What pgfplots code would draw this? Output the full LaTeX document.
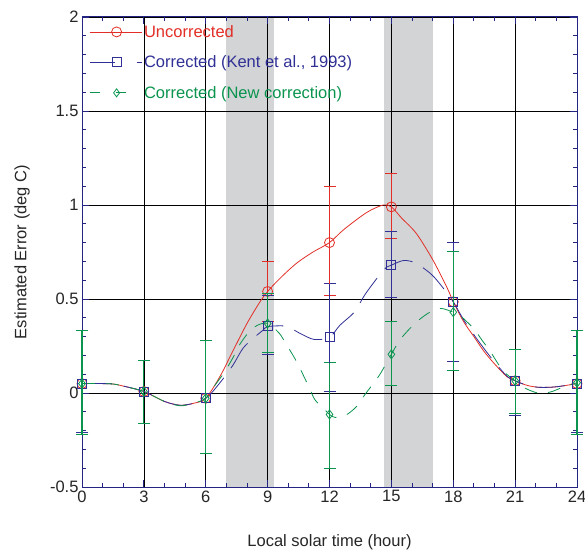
\documentclass[border=0pt]{standalone}
\usepackage{fontspec}
\setmainfont{Liberation Sans}
\usepackage{pgfplots}
\pgfplotsset{compat=1.18}

\definecolor{uncorr}{RGB}{226,46,38}
\definecolor{kent}{RGB}{48,48,150}
\definecolor{newc}{RGB}{10,148,78}
\definecolor{frame}{RGB}{36,36,130}
\definecolor{band}{RGB}{211,212,214}
\newcommand{\fs}{\fontsize{16.5}{19}\selectfont}

\begin{document}
\begin{tikzpicture}
\begin{axis}[
  set layers,
  scale only axis, width=495pt, height=470pt,
  xmin=0, xmax=24, ymin=-0.5, ymax=2,
  xtick={0,3,...,24}, ytick={-0.5,0,0.5,1,1.5,2},
  minor x tick num=2, minor y tick num=4,
  tick align=inside, major tick length=7pt, minor tick length=4pt,
  tick style={frame, line width=0.8pt},
  axis line style={frame, line width=1pt},
  grid=major, major grid style={black, line width=0.7pt},
  tick label style={font=\fs, text=black!85},
  /pgf/number format/assume math mode=true,
  xlabel={Local solar time (hour)},
  ylabel={Estimated Error (deg C)},
  label style={font=\fs, text=black!85},
  xlabel style={at={(axis description cs:0.5,-0.117)}, anchor=center},
  ylabel style={at={(axis description cs:-0.121,0.5)}, anchor=center},
  unbounded coords=jump,
  legend image code/.code={\draw[mark repeat=2,mark phase=2,#1] plot coordinates {(0pt,0pt) (27pt,0pt) (52pt,0pt)};},
  legend style={draw=none, fill=none, at={(axis description cs:0,1)}, anchor=north west,
    yshift=-2pt, font=\fs, row sep=13pt, inner xsep=7pt, inner ysep=4pt},
  legend cell align=left,
  errbar/.style={on layer=axis foreground, line width=1.15pt, mark=-, mark size=6pt,
    mark options={solid, line width=1pt}, forget plot},
]
\begin{pgfonlayer}{axis background}
\fill[band] (axis cs:7,-0.5) rectangle (axis cs:9.33,2);
\fill[band] (axis cs:14.65,-0.5) rectangle (axis cs:17,2);
\end{pgfonlayer}

% ---- uncorrected
\addplot[uncorr, line width=0.8pt, smooth, forget plot] coordinates {
(0,0.05) (1,0.05) (1.5,0.048) (2,0.037) (3,0.008) (4,-0.045) (4.75,-0.065) (5.4,-0.055) (6,-0.028)
(6.7,0.09) (7.3,0.22) (8,0.37) (8.6,0.48) (9,0.54) (9.6,0.61) (10.4,0.69) (11.2,0.75) (12,0.80)
(12.7,0.87) (13.8,0.96) (14.6,1.00) (15,0.99) (15.5,0.93) (16.2,0.85) (17,0.71) (17.7,0.56)
(18,0.485) (18.5,0.38) (19,0.30) (19.5,0.22) (20,0.155) (20.6,0.087) (21,0.065) (21.6,0.04)
(22.2,0.03) (23,0.033) (24,0.05)};
% error bars (low, high)
\addplot[uncorr, errbar] coordinates {
(0,-0.22) (0,0.33) (1,nan) (3,-0.16) (3,0.175) (4,nan) (6,-0.32) (6,0.277) (7,nan)
(9,0.38) (9,0.70) (10,nan) (12,0.52) (12,1.10) (13,nan) (15,0.82) (15,1.17) (16,nan)
(18,0.17) (18,0.80) (19,nan) (21,-0.11) (21,0.23) (22,nan) (24,-0.22) (24,0.33)};
\addplot[uncorr, only marks, mark=o, mark size=5pt, line width=0.8pt, forget plot] coordinates {
(0,0.05) (3,0.008) (6,-0.028) (9,0.54) (12,0.80) (15,0.99) (18,0.485) (21,0.065) (24,0.05)};

% ---- Kent et al., 1993
\addplot[kent, line width=0.8pt, smooth, dash pattern=on 30pt off 12pt, forget plot] coordinates {
(0,0.05) (1,0.05) (1.5,0.048) (2,0.037) (3,0.008) (4,-0.045) (4.75,-0.065) (5.4,-0.055) (6,-0.028)
(6.2,-0.01) (6.8,0.07) (7.33,0.15) (7.82,0.24) (8.4,0.30) (8.79,0.335) (9,0.353) (9.9,0.355)
(10.57,0.317) (11.25,0.285) (12,0.296) (12.5,0.36) (13.2,0.43) (13.7,0.52) (14.3,0.61) (14.77,0.67)
(15,0.68) (15.6,0.705) (16.2,0.69) (16.95,0.63) (17.5,0.56) (18,0.485) (18.5,0.39) (19,0.31)
(19.5,0.235) (20,0.165) (20.6,0.09) (21,0.065) (21.6,0.04) (22.2,0.03) (23,0.033) (24,0.05)};
\addplot[kent, errbar] coordinates {
(0,-0.21) (0,0.33) (1,nan) (3,-0.16) (3,0.175) (4,nan) (6,-0.32) (6,0.277) (7,nan)
(9,0.205) (9,0.52) (10,nan) (12,0.01) (12,0.58) (13,nan) (15,0.51) (15,0.86) (16,nan)
(18,0.17) (18,0.80) (19,nan) (21,-0.12) (21,0.23) (22,nan) (24,-0.21) (24,0.33)};
\addplot[kent, only marks, mark=square, mark size=4.5pt, line width=0.8pt, forget plot] coordinates {
(0,0.05) (3,0.008) (6,-0.028) (9,0.355) (12,0.296) (15,0.68) (18,0.485) (21,0.065) (24,0.05)};

% ---- new correction
\addplot[newc, line width=0.8pt, smooth, dash pattern=on 13pt off 11pt, forget plot] coordinates {
(0,0.05) (1,0.05) (1.5,0.048) (2,0.037) (3,0.008) (4,-0.045) (4.75,-0.068) (5.4,-0.055) (6,-0.028)
(6.4,0.034) (6.9,0.11) (7.33,0.19) (7.6,0.25) (8.06,0.32) (8.5,0.36) (9,0.37) (9.57,0.317)
(9.92,0.255) (10.25,0.197) (10.54,0.137) (10.78,0.083) (11.05,0.021) (11.3,-0.037) (11.78,-0.09)
(12,-0.114) (12.27,-0.13) (12.8,-0.117) (13.3,-0.073) (13.7,-0.011) (14.05,0.04) (14.45,0.10)
(15,0.206) (15.4,0.28) (15.87,0.34) (16.35,0.39) (16.87,0.43) (17.4,0.45) (18,0.43) (18.25,0.42)
(18.97,0.345) (19.4,0.28) (19.8,0.22) (20.4,0.12) (21,0.065) (21.4,0.03) (22.1,0.0) (22.7,0.005)
(23.3,0.03) (24,0.055)};
\addplot[newc, errbar] coordinates {
(0,-0.22) (0,0.33) (1,nan) (3,-0.16) (3,0.175) (4,nan) (6,-0.32) (6,0.277) (7,nan)
(9,0.215) (9,0.53) (10,nan) (12,-0.40) (12,0.16) (13,nan) (15,0.04) (15,0.38) (16,nan)
(18,0.12) (18,0.755) (19,nan) (21,-0.11) (21,0.23) (22,nan) (24,-0.22) (24,0.33)};
\addplot[newc, only marks, mark=diamond, mark size=4.5pt, line width=0.8pt, forget plot] coordinates {
(0,0.05) (3,0.008) (6,-0.028) (9,0.37) (12,-0.114) (15,0.206) (18,0.43) (21,0.065) (24,0.055)};

\addlegendimage{uncorr, line width=0.8pt, mark=o, mark size=5pt, mark options={solid}}
\addlegendentry[text=uncorr]{Uncorrected}
\addlegendimage{kent, line width=0.8pt, dash pattern=on 25pt off 22pt, mark=square, mark size=4.5pt, mark options={solid}}
\addlegendentry[text=kent]{Corrected (Kent et al., 1993)}
\addlegendimage{newc, line width=0.8pt, dash pattern=on 10pt off 16pt, mark=diamond, mark size=4pt, mark options={solid}}
\addlegendentry[text=newc]{Corrected (New correction)}
\end{axis}
\pgfresetboundingbox
\path (current axis.south west) ++(-82pt,-64pt) rectangle ([shift={(8pt,17pt)}]current axis.north east);
\end{tikzpicture}
\end{document}
